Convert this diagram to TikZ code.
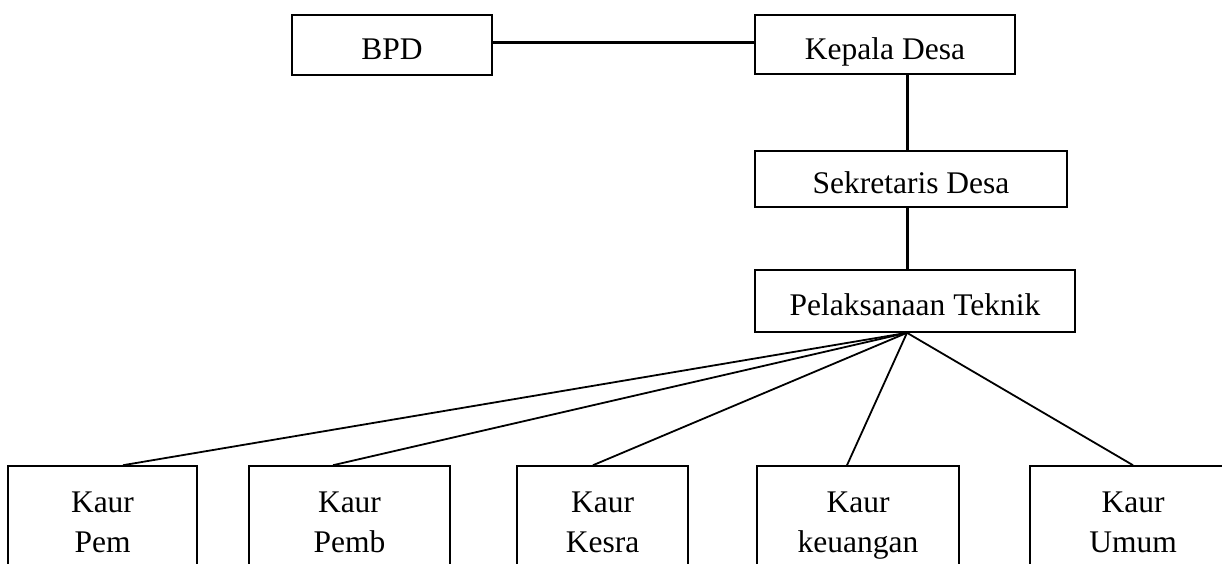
\documentclass[tikz,border=0pt]{standalone}
\usepackage{fontspec}
\setmainfont{Liberation Serif}
\begin{document}
\begin{tikzpicture}[x=1pt,y=-1pt,
  box/.style={draw, line width=1.6pt, inner sep=0pt, align=center,
    font=\fontsize{31.5}{40}\selectfont, text height=29pt, text depth=0pt},
  lowbox/.style={box, text height=62pt, text depth=10pt, minimum height=120pt},
  trunk/.style={line width=3pt},
  branch/.style={line width=1.8pt}]
\useasboundingbox (0,0) rectangle (1222,563);
\clip (0,0) rectangle (1222,563);

% top row
\node[box, minimum width=200pt, minimum height=60pt] (bpd) at (392,45) {BPD};
\node[box, minimum width=260pt, minimum height=59pt] (kep) at (885,44.5) {Kepala Desa};
\node[box, minimum width=312pt, minimum height=56pt] (sek) at (911,179) {Sekretaris Desa};
\node[box, minimum width=320pt, minimum height=62pt] (pel) at (915,301) {Pelaksanaan Teknik};

% bottom row
\node[lowbox, minimum width=189pt] (kpem) at (102.5,526) {Kaur\\Pem};
\node[lowbox, minimum width=201pt] (kpemb) at (349.5,526) {Kaur\\Pemb};
\node[lowbox, minimum width=171pt] (kkesra) at (602.5,526) {Kaur\\Kesra};
\node[lowbox, minimum width=202pt] (kkeu) at (858,526) {Kaur\\keuangan};
\node[lowbox, minimum width=206pt] (kumum) at (1133,526) {Kaur\\Umum};

% helper coordinates
\coordinate (trunkx) at (907,0);
\coordinate (hub) at (pel.south -| trunkx);

% connectors
\draw[trunk] (bpd.east |- 0,42) -- (kep.west |- 0,42);
\draw[trunk] (kep.south -| trunkx) -- (sek.north -| trunkx);
\draw[trunk] (sek.south -| trunkx) -- (pel.north -| trunkx);

\draw[branch] (hub) -- (kpem.north -| 123,0);
\draw[branch] (hub) -- (kpemb.north -| 333,0);
\draw[branch] (hub) -- (kkesra.north -| 593,0);
\draw[branch] (hub) -- (kkeu.north -| 847,0);
\draw[branch] (hub) -- (kumum.north -| 1133,0);
\end{tikzpicture}
\end{document}
